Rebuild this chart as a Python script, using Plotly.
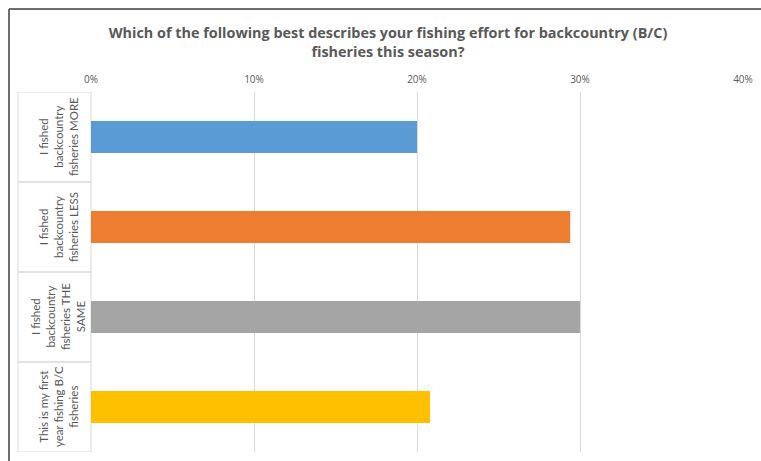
import plotly.graph_objects as go

categories = [
    "I fished<br>backcountry<br>fisheries MORE",
    "I fished<br>backcountry<br>fisheries LESS",
    "I fished<br>backcountry<br>fisheries THE<br>SAME",
    "This is my first<br>year fishing B/C<br>fisheries",
]
values = [0.200, 0.294, 0.300, 0.208]
colors = ["#5b9bd5", "#ed7d31", "#a5a5a5", "#ffc000"]
tick_vals = [0, 0.1, 0.2, 0.3, 0.4]
tick_text = ["0%", "10%", "20%", "30%", "40%"]
title_text = ("Which of the following best describes your fishing effort for backcountry (B/C)"
              "<br>fisheries this season?")

W, H = 761, 461
L, R, T, B = 91, 18, 92, 9
pw = W - L - R
ph = H - T - B

def px_x(px):
    return (px - L) / pw

def px_y(py):
    return (H - B - py) / ph

FONT = "Open Sans, Liberation Sans, sans-serif"
LABEL_FONT = "Lato, Open Sans, sans-serif"

fig = go.Figure()
fig.add_trace(go.Bar(
    y=list(range(len(categories))), x=values, orientation="h",
    marker=dict(color=colors, line=dict(width=0)),
    hoverinfo="x",
))

annotations = []
shapes = []
for i, c in enumerate(categories):
    annotations.append(dict(
        x=px_x(58), xref="paper", y=i, yref="y", text=c, showarrow=False,
        textangle=-90, font=dict(family=LABEL_FONT, size=11.5, color="#595959"),
        xanchor="center", yanchor="middle",
    ))
    shapes.append(dict(
        type="rect", xref="paper", yref="y", x0=px_x(18), x1=0,
        y0=i - 0.5, y1=i + 0.5, line=dict(color="#d9d9d9", width=1), layer="below",
    ))
# outer frame lines (top and left)
shapes.append(dict(type="line", xref="paper", yref="paper", x0=px_x(9), x1=px_x(W + 5),
                   y0=px_y(9), y1=px_y(9), line=dict(color="#6e6e6e", width=2)))
shapes.append(dict(type="line", xref="paper", yref="paper", x0=px_x(9), x1=px_x(9),
                   y0=px_y(9), y1=px_y(H + 5), line=dict(color="#6e6e6e", width=2)))

fig.update_layout(
    width=W, height=H,
    margin=dict(l=L, r=R, t=T, b=B),
    paper_bgcolor="white", plot_bgcolor="white",
    showlegend=False,
    bargap=0.644,
    title=dict(text=title_text, x=388 / W, xref="container", xanchor="center",
               y=1 - 38 / H, yref="container", yanchor="middle",
               font=dict(family=FONT, size=14.4, color="#595959", weight="bold")),
    xaxis=dict(range=[0, 0.4], side="top", tickvals=tick_vals, ticktext=tick_text,
               showgrid=True, gridcolor="#d9d9d9", gridwidth=1, zeroline=False,
               showline=False, ticks="", ticklabelstandoff=6,
               tickfont=dict(family=FONT, size=10, color="#595959")),
    yaxis=dict(range=[len(categories) - 0.5, -0.5], showticklabels=False, showgrid=False,
               zeroline=False, showline=False, ticks=""),
    annotations=annotations,
    shapes=shapes,
)

fig.write_html("out.html", config={"displayModeBar": False},
               post_script="document.body.style.margin='0';document.body.style.overflow='hidden';")
